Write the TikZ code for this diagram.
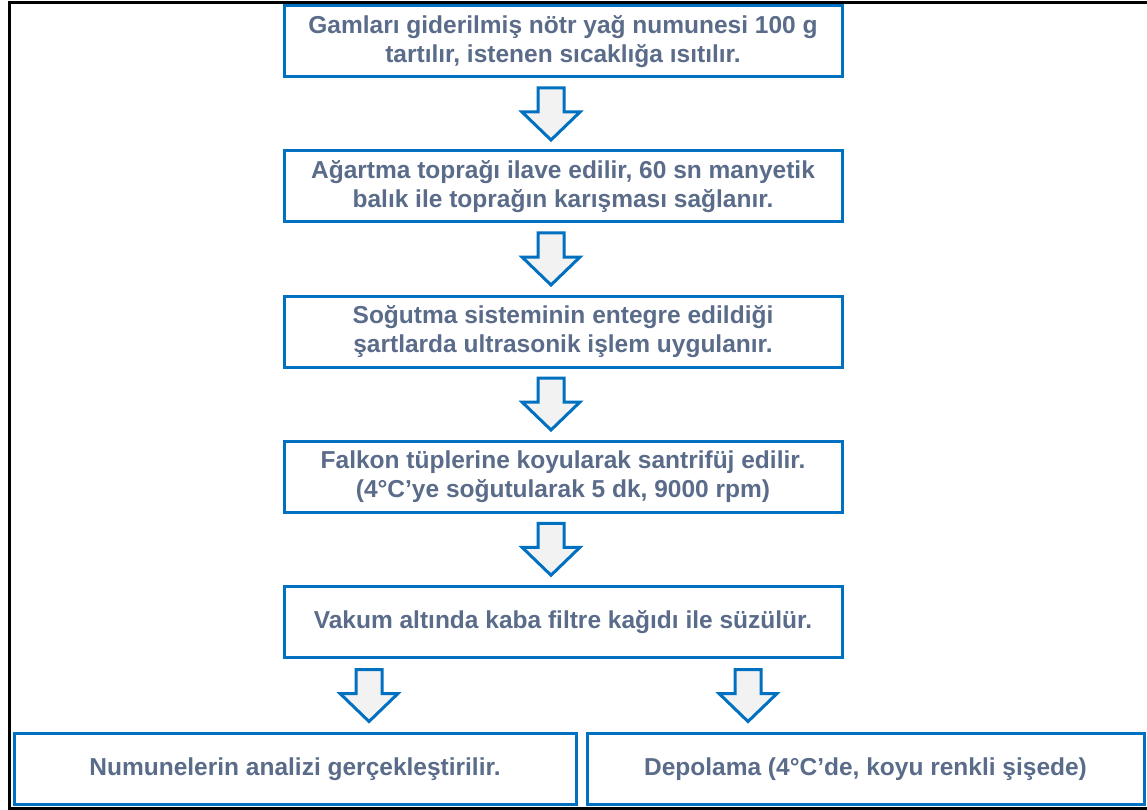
\documentclass[tikz,border=0pt]{standalone}
\usepackage{fontspec}
\setmainfont{Liberation Sans}
\usetikzlibrary{calc}
\definecolor{boxblue}{RGB}{0,112,192}
\definecolor{txt}{RGB}{90,108,138}
\definecolor{arrfill}{RGB}{242,242,242}
\tikzset{
  stepbox/.style={draw=boxblue, line width=3pt, fill=white, rectangle,
    minimum width=558pt, minimum height=71pt, inner sep=0pt, align=center,
    text=txt, font=\bfseries\fontsize{24.5}{28.5}\selectfont},
  barrow/.style={draw=boxblue, line width=3pt, fill=arrfill, line join=miter}
}
\newcommand{\blockarr}[3]{%
  \draw[barrow] let \p1=($(#1.south)!.5!(#2.north)$) in
    (#3pt,\y1) ++(-13,-26) -- ++(26,0) -- ++(0,24) -- ++(16,0) -- ++(-29,28)
    -- ++(-29,-28) -- ++(16,0) -- cycle;}
\begin{document}
\begin{tikzpicture}[x=1pt,y=-1pt]
\useasboundingbox (0,0) rectangle (1147,810);
\fill[white] (0,0) rectangle (1147,810);
\draw[line width=3pt] (1150,3) -- (9,3) -- (9,808) -- (1150,808);
\node[stepbox] (b1) at (563,41.5) {Gamları giderilmiş nötr yağ numunesi 100 g\\tartılır, istenen sıcaklığa ısıtılır.};
\node[stepbox] (b2) at (563,186.5) {Ağartma toprağı ilave edilir, 60 sn manyetik\\balık ile toprağın karışması sağlanır.};
\node[stepbox] (b3) at (563,331.5) {Soğutma sisteminin entegre edildiği\\şartlarda ultrasonik işlem  uygulanır.};
\node[stepbox] (b4) at (563,476.5) {Falkon tüplerine koyularak santrifüj edilir.\\(4°C’ye soğutularak 5 dk, 9000 rpm)};
\node[stepbox] (b5) at (563,622) {Vakum altında kaba filtre kağıdı ile süzülür.};
\node[stepbox, minimum width=562pt] (b6) at (295,769) {Numunelerin analizi gerçekleştirilir.};
\node[stepbox, minimum width=557pt] (b7) at (865.5,769) {Depolama (4°C’de, koyu renkli şişede)};
\blockarr{b1}{b2}{551}
\blockarr{b2}{b3}{551}
\blockarr{b3}{b4}{551}
\blockarr{b4}{b5}{551}
\blockarr{b5}{b6}{369}
\blockarr{b5}{b7}{748}
\end{tikzpicture}
\end{document}
